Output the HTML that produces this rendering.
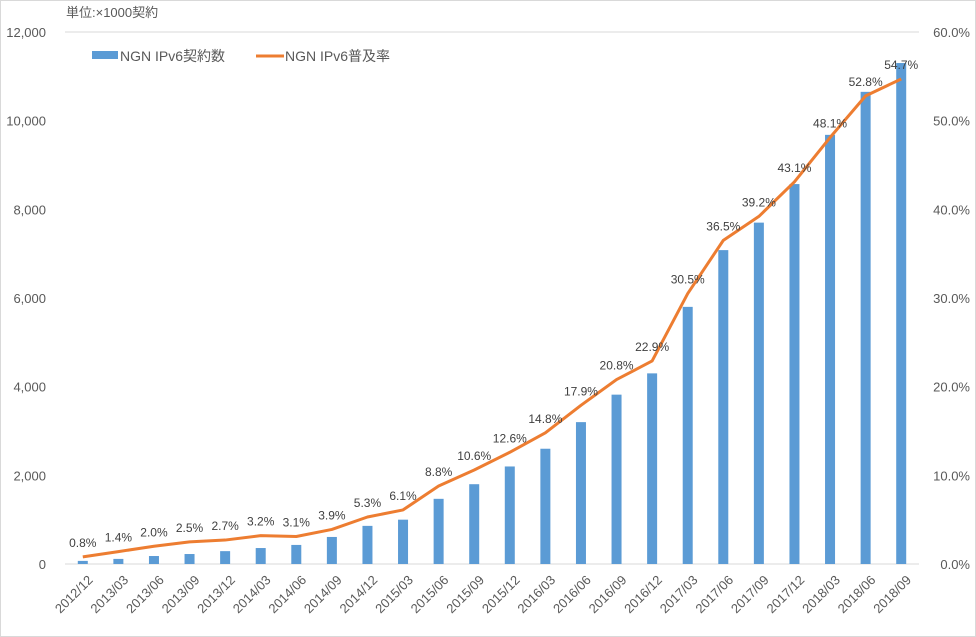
<!DOCTYPE html>
<html><head><meta charset="utf-8">
<style>
body{margin:0;background:#fff;}
svg{display:block;font-family:"Liberation Sans","Noto Sans CJK JP",sans-serif;}
</style></head>
<body>
<svg id="chart" width="976" height="637">
<rect x="0.5" y="0.5" width="975" height="636" fill="#fff" stroke="#d9d9d9"/>
<text x="66" y="17" font-size="13" fill="#595959">単位:×1000契約</text>
<g>
<rect x="92" y="51" width="26" height="8" fill="#5b9bd5"/>
<text x="120" y="61" font-size="14" fill="#595959">NGN IPv6契約数</text>
<line x1="256" y1="56" x2="284" y2="56" stroke="#ed7d31" stroke-width="3"/>
<text x="285" y="61" font-size="14" fill="#595959">NGN IPv6普及率</text>
</g>
<g id="plot"></g>
</svg>
<script>
const categories=["2012/12","2013/03","2013/06","2013/09","2013/12","2014/03","2014/06","2014/09","2014/12","2015/03","2015/06","2015/09","2015/12","2016/03","2016/06","2016/09","2016/12","2017/03","2017/06","2017/09","2017/12","2018/03","2018/06","2018/09"];
const contracts=[70,115,180,225,290,360,430,610,860,1000,1470,1800,2200,2600,3200,3820,4300,5800,7080,7700,8570,9680,10650,11300];
const rates=[0.8,1.4,2.0,2.5,2.7,3.2,3.1,3.9,5.3,6.1,8.8,10.6,12.6,14.8,17.9,20.8,22.9,30.5,36.5,39.2,43.1,48.1,52.8,54.7];
const leftTicks=[0,2000,4000,6000,8000,10000,12000];
const rightTicks=[0,10,20,30,40,50,60];

const NS="http://www.w3.org/2000/svg";
const g=document.getElementById('plot');
const x0=65,x1=919,yBase=564,yTop=32;
const band=(x1-x0)/categories.length;
const xc=i=>x0+band*(i+0.5);
const yL=v=>yBase-(v/12000)*(yBase-yTop);
const yR=v=>yBase-(v/60)*(yBase-yTop);
function el(t,a){const e=document.createElementNS(NS,t);for(const k in a)e.setAttribute(k,a[k]);g.appendChild(e);return e;}

const topLine=el('line',{x1:x0,x2:x1,y1:yTop,y2:yTop,stroke:'#d9d9d9'});


const ax=el('line',{x1:x0,x2:x1,y1:yBase,y2:yBase,stroke:'#d9d9d9'});



leftTicks.forEach(v=>{
  const t=el('text',{x:46,y:yL(v)+5,'font-size':13,fill:'#595959','text-anchor':'end'});
  t.textContent=v.toLocaleString('en-US');
  
  
});
rightTicks.forEach(v=>{
  const t=el('text',{x:970,y:yR(v)+5,'font-size':13,fill:'#595959','text-anchor':'end'});
  t.textContent=v.toFixed(1)+'%';
  
  
});
contracts.forEach((v,i)=>{
  const r=el('rect',{x:xc(i)-5,y:yL(v),width:10,height:yBase-yL(v),fill:'#5b9bd5'});
  
  
});
const pts=rates.map((v,i)=>xc(i)+','+yR(v)).join(' ');
const pl=el('polyline',{points:pts,fill:'none',stroke:'#ed7d31','stroke-width':3,'stroke-linejoin':'round'});


rates.forEach((v,i)=>{
  const t=el('text',{x:xc(i),y:yR(v)-10,'font-size':12,fill:'#404040','text-anchor':'middle'});
  t.textContent=v.toFixed(1)+'%';
  
  
});
categories.forEach((c,i)=>{
  const X=xc(i)+4,Y=yBase+10;
  const t=el('text',{x:X,y:Y,'font-size':13,fill:'#595959','text-anchor':'end',transform:`rotate(-45 ${X} ${Y})`,'dominant-baseline':'hanging'});
  t.textContent=c;
  
  
});
</script>
</body></html>
